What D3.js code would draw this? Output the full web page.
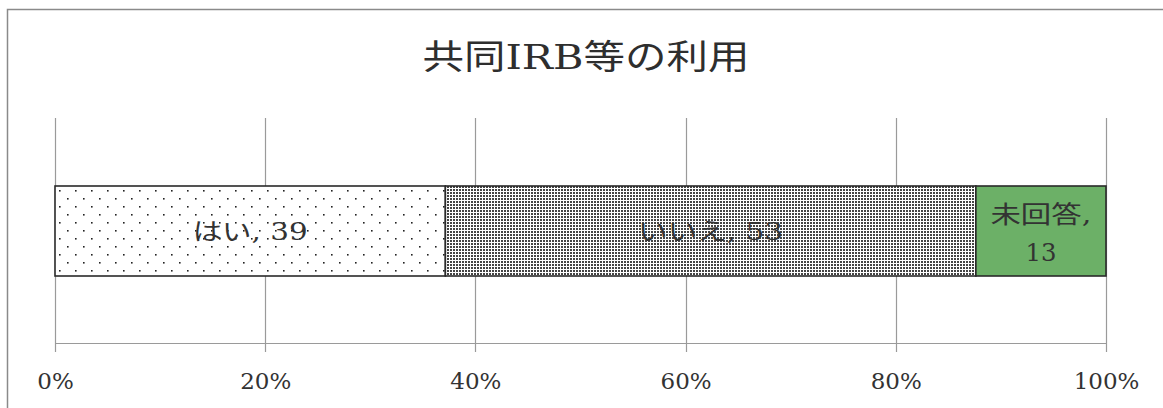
<!DOCTYPE html>
<html><head><meta charset="utf-8">
<script src="https://cdn.jsdelivr.net/npm/d3@7"></script>
<style>
html,body{margin:0;padding:0;background:#fff;}
svg{display:block;}
text{font-family:"DejaVu Serif","Liberation Serif","Noto Sans CJK JP",serif;}
</style></head>
<body>
<svg id="c" width="1163" height="408"></svg>
<script>
const title = "共同IRB等の利用";
const categories = ["はい", "いいえ", "未回答"];
const values = [39, 53, 13];
const tickValues = [0, 0.2, 0.4, 0.6, 0.8, 1.0];
const tickLabels = ["0%", "20%", "40%", "60%", "80%", "100%"];

const W = 1163, H = 408;
const svg = d3.select("#c");

const defs = svg.append("defs");
const p1 = defs.append("pattern").attr("id","sparse").attr("patternUnits","userSpaceOnUse")
  .attr("width",16).attr("height",16).attr("x",56).attr("y",187);
p1.append("rect").attr("width",16).attr("height",16).attr("fill","#fff");
p1.append("rect").attr("x",3).attr("y",3).attr("width",1.6).attr("height",1.6).attr("fill","#222");
p1.append("rect").attr("x",11).attr("y",11).attr("width",1.6).attr("height",1.6).attr("fill","#222");
const p2 = defs.append("pattern").attr("id","dense").attr("patternUnits","userSpaceOnUse")
  .attr("width",3).attr("height",3);
p2.append("rect").attr("width",3).attr("height",3).attr("fill","#fff");
p2.append("rect").attr("x",0).attr("y",0).attr("width",2).attr("height",2).attr("fill","#444");

const fills = ["url(#sparse)", "url(#dense)", "#6cb067"];

svg.append("path").attr("d", `M7.5,${H+5} L7.5,9.5 L${W+5},9.5`)
  .attr("fill","none").attr("stroke","#8a8a8a").attr("stroke-width",1.5);

const x0 = 55, x1 = 1106;
const x = d3.scaleLinear().domain([0,1]).range([x0, x1]);
const gridTop = 118, axisY = 343;

// title
svg.append("text").attr("x", 586).attr("y", 69).attr("text-anchor","middle")
  .attr("font-size", 34).attr("fill","#2e2e2e")
  .attr("textLength", 327).attr("lengthAdjust","spacingAndGlyphs").text(title);

// gridlines
svg.append("g").selectAll("line").data(tickValues).join("line")
  .attr("x1", d=>Math.round(x(d))+0.5).attr("x2", d=>Math.round(x(d))+0.5)
  .attr("y1", gridTop).attr("y2", axisY+9)
  .attr("stroke","#9a9a9a").attr("stroke-width",1.2);

// axis
const axis = d3.axisBottom(x).tickValues(tickValues).tickFormat((d,i)=>tickLabels[i]).tickSize(0).tickPadding(0);
const ag = svg.append("g").attr("transform", `translate(0,${axisY})`).call(axis);
ag.attr("font-family", null);
ag.select(".domain").attr("stroke","#9a9a9a").attr("stroke-width",1.2);
ag.selectAll("text").attr("font-size", 23).attr("fill","#333")
  .attr("dy", null).attr("y", 46);

const total = d3.sum(values);
let acc = 0;
const segs = values.map((v,i)=>{ const s={cat:categories[i], v, start:acc/total, end:(acc+v)/total}; acc+=v; return s; });

const barY = 186, barH = 90;
svg.append("g").selectAll("rect").data(segs).join("rect")
  .attr("x", d=>x(d.start)).attr("width", d=>x(d.end)-x(d.start))
  .attr("y", barY).attr("height", barH)
  .attr("fill", (d,i)=>fills[i]).attr("stroke","#2a2a2a").attr("stroke-width",1.6);

// labels (widths matched to reference)
const labelWidths = [115, 145];
const lg = svg.append("g").attr("fill","#333").attr("font-size", 24).attr("text-anchor","middle");
segs.forEach((d,i)=>{
  const cx = (x(d.start)+x(d.end))/2;
  if (i < 2) {
    lg.append("text").attr("x", cx).attr("y", barY+barH/2).attr("dy","0.36em")
      .attr("textLength", labelWidths[i]).attr("lengthAdjust","spacingAndGlyphs")
      .text(`${d.cat}, ${d.v}`);
  } else {
    lg.append("text").attr("x", cx).attr("y", 214).attr("dy","0.36em")
      .attr("textLength", 101).attr("lengthAdjust","spacingAndGlyphs").text(`${d.cat},`);
    lg.append("text").attr("x", cx).attr("y", 252).attr("dy","0.36em")
      .attr("textLength", 31).attr("lengthAdjust","spacingAndGlyphs").text(`${d.v}`);
  }
});
</script>
</body></html>
